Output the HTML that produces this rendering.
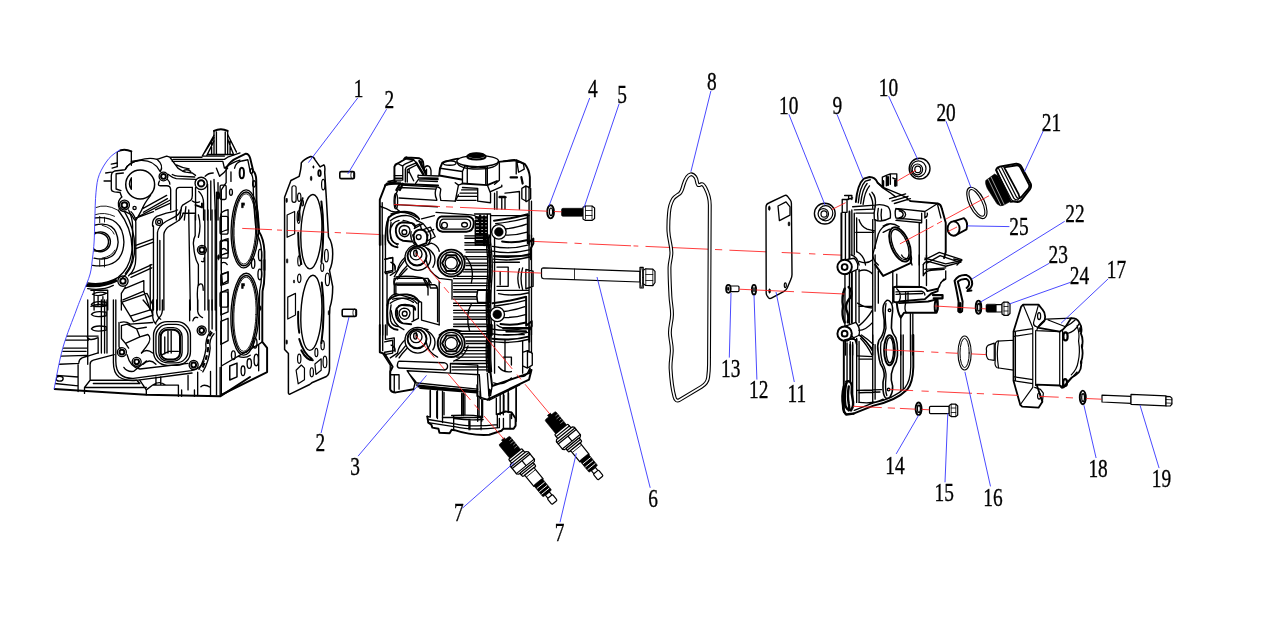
<!DOCTYPE html>
<html><head><meta charset="utf-8"><title>Exploded view</title>
<style>
html,body{margin:0;padding:0;background:#fff;}
body{width:1280px;height:623px;overflow:hidden;font-family:"Liberation Serif",serif;}
svg{display:block}
.k{stroke:#000;fill:none;stroke-width:1.2;stroke-linejoin:round;stroke-linecap:round}
.kw{stroke:#000;fill:#fff;stroke-width:1.2;stroke-linejoin:round;stroke-linecap:round}
.t{stroke:#000;fill:none;stroke-width:.8;stroke-linejoin:round;stroke-linecap:round}
.tw{stroke:#000;fill:#fff;stroke-width:.8;stroke-linejoin:round}
.h{stroke:#000;fill:none;stroke-width:1.8;stroke-linejoin:round;stroke-linecap:round}
.hw{stroke:#000;fill:#fff;stroke-width:1.8;stroke-linejoin:round}
.b{stroke:#3535ff;fill:none;stroke-width:.9}
.r{stroke:#ff1a1a;fill:none;stroke-width:.85}
.f{fill:#000;stroke:#000;stroke-width:.6}
#block .k,#head .k,#cover .k,#block .kw,#head .kw,#cover .kw{stroke-width:1.35}
#block .h,#head .h,#cover .h,#head .hw,#cover .hw{stroke-width:1.95}
#block .t,#head .t{stroke-width:.9}
text{font-family:"Liberation Serif",serif;font-size:25.5px;fill:#000;stroke:#000;stroke-width:.35px}
</style></head><body>
<svg width="1280" height="623" viewBox="0 0 1280 623">
<rect width="1280" height="623" fill="#fff"/>
<!-- p_block.svg -->
<defs><clipPath id="bclip"><path d="M120.1 149.7C118.2 151.2 112.4 154.3 108.9 158.5C105.4 162.7 101.5 169.0 99.3 174.6C97.1 180.2 96.8 184.6 96.0 192.2C95.2 199.8 95.1 211.7 94.8 220.0C94.5 228.3 94.5 235.7 94.1 242.0C93.7 248.3 93.2 252.7 92.5 258.0C91.8 263.3 91.7 268.1 90.1 274.0C88.5 279.9 85.1 287.5 82.8 293.5C80.5 299.5 79.7 300.9 76.4 310.0C73.1 319.1 66.5 334.8 62.8 348.0C59.1 361.2 55.5 382.4 54.0 389.3L54 420H300V100H120Z"/></clipPath></defs>
<g id="block"><g clip-path="url(#bclip)">
<style>#block path,#block circle,#block ellipse,#block rect{vector-effect:non-scaling-stroke}</style>
<!-- TOP: region [80,120,240,220] scale 6.231 -->
<g transform="translate(80,120) scale(.16048)">
<path class="h" d="M232 196Q276 176 320 196M835 68Q878 46 920 68"/>
<path class="k" d="M232 196V290M320 196V282M835 68V215M920 68V215M850 75V215M905 75V215"/>
<path class="k" d="M835 95L762 225M835 130L790 222M820 140V215M920 90L975 200M920 120L955 210M935 130V215M762 225H900M800 215H960M775 205L835 110"/>
<path class="k" d="M195 275L232 268M320 258L370 250Q430 232 480 245L540 225L560 232H760M560 232L610 300M580 245H900M575 258H890M900 245L920 232L997 205M890 258L900 300M900 300Q950 262 997 250M870 350Q900 330 920 300M610 300Q640 322 660 325L700 330L720 345M600 280Q640 300 680 305M640 320Q660 300 690 320"/>
<path class="k" d="M370 250Q300 265 280 310L215 318Q195 325 195 350V430Q195 445 215 448L250 452L260 480M270 330L225 335V430L255 440M200 300L232 290M160 330L195 325M150 380H195"/>
<circle class="k" cx="375" cy="402" r="90" style="stroke-width:1.5"/>
<path class="k" d="M320 360V432Q296 400 320 360Z"/>
<path class="k" d="M480 245Q525 285 500 322M545 370Q560 385 560 400M495 380Q480 410 500 410H540Q565 410 565 435V560M548 338Q575 360 600 365L720 370M600 623V440Q600 420 620 420H700M575 340Q590 350 610 350L715 355"/>
<circle class="k" cx="520" cy="352" r="27"/><circle class="h" cx="520" cy="352" r="15"/>
<circle class="k" cx="755" cy="395" r="38"/><circle class="h" cx="755" cy="395" r="20"/>
<circle class="k" cx="277" cy="530" r="31"/><circle class="h" cx="277" cy="530" r="18"/><circle class="k" cx="340" cy="548" r="10"/>
<path class="k" d="M260 480Q235 500 240 535Q245 572 285 572L320 590L340 623M440 470Q400 520 385 560L350 623M385 555L540 470M395 575L545 490M350 610L560 500M470 560L560 520"/>
<path class="k" d="M795 400V623M815 380V623M835 370L845 623M720 420V623M700 420V470Q700 490 690 500L640 530Q630 540 630 560L620 623M740 445Q770 470 770 520V623M660 540L650 623M700 505Q720 520 745 510M780 350Q800 330 830 330M850 300L870 350M860 390V623"/>
<path class="h" d="M720 530L760 545V520"/>
<ellipse class="h" cx="860" cy="470" rx="7" ry="18"/>
<path class="k" d="M283 308Q300 262 380 252Q462 250 497 318"/>
<path class="t" d="M100 545Q160 520 232 560M95 590Q150 570 215 600"/>
</g>
<!-- MID: region [70,210,230,310] scale 6.231 -->
<g transform="translate(70,210) scale(.16048)">
<path class="k" d="M300 0Q392 120 386 250Q376 360 300 420Q220 470 110 455M340 10Q412 130 402 262Q392 372 318 432"/>
<circle class="k" cx="190" cy="198" r="62"/><path class="k" d="M150 95Q290 60 300 200Q290 330 150 300M150 50Q330 30 336 200Q330 370 140 345M150 140Q240 140 240 200Q235 262 150 255"/>
<path class="t" d="M185 40V80M215 45V75M185 310V350M215 305V355M200 300Q260 290 280 250M200 95Q260 110 275 150"/>
<path stroke="#000" style="stroke-width:3.2" fill="none" d="M100 468Q200 482 292 436"/>
<path class="k" d="M110 490Q200 505 270 470"/>
<path class="k" d="M380 10Q410 40 410 80V300Q410 372 365 410M365 0Q390 50 390 100V290Q385 350 345 395"/>
<circle class="k" cx="330" cy="443" r="32"/><circle class="h" cx="330" cy="443" r="17"/>
<path class="k" d="M410 50L520 10M410 220L520 180M410 240L520 200M380 400L510 340M380 420L510 360M340 490L460 440M330 560L460 505M320 575L480 520M460 440V505L500 623M480 520L520 600M345 480L320 520V623"/>
<path class="k" d="M515 100Q510 60 540 40L600 20Q650 10 670 0M520 100V623M545 190V140Q550 100 600 70L650 45Q680 30 690 0M585 190V150Q590 120 620 100L670 70Q700 50 705 20M545 190V623M560 190V623M585 190V623M500 340V623"/>
<circle class="k" cx="555" cy="75" r="21"/><circle class="k" cx="555" cy="75" r="10"/>
<path class="k" d="M740 0V30L750 623M705 20H780M780 30V160Q765 190 770 220Q775 300 800 340V460Q790 500 795 560V623M840 0V623M860 0V623M885 0V623M905 0V623M800 30Q820 100 800 170M820 320Q840 330 835 300M800 470Q830 440 830 500"/>
<circle class="k" cx="822" cy="248" r="28"/><circle class="h" cx="822" cy="248" r="16"/>
<rect class="k" x="935" y="40" width="50" height="110" rx="12"/><rect class="k" x="935" y="190" width="50" height="110" rx="12"/><path class="k" d="M945 400L985 385V440L950 460Z"/><rect class="k" x="935" y="510" width="50" height="95" rx="12"/>
<ellipse class="f" cx="925" cy="295" rx="6" ry="16"/>
<path class="k" d="M940 250Q960 230 975 250M945 330Q965 320 980 340"/>
<path class="k" d="M130 500H235V623M150 500V623M140 525Q180 502 228 518Q180 545 140 525ZM130 600Q170 580 230 595M175 540V600M205 540V600"/>
</g>
<!-- BOTTOM: region [50,300,250,400] scale 6.23 -->
<g transform="translate(50,300) scale(.16051)">
<path class="h" d="M25 555L600 590L1060 600L1246 480"/>
<path class="k" d="M105 225H300M95 250H240M85 300H230M80 320H225M230 225Q240 262 300 235M180 390Q180 370 200 360L300 330M175 400V570M215 545L250 500V400Q250 380 270 375L400 340M215 545V582M250 500H540M270 520H560M215 545H600M560 500L600 560V590M540 500L560 520M30 520L175 535M40 470L175 480M60 400L180 395M70 350L230 345"/>
<path class="k" d="M600 560L640 530H800M660 480V530M690 480V530M800 530V600M820 560V600M900 560V600M920 450V595M1000 445V600M1060 420V600M940 540Q960 520 1000 545M640 530Q680 500 720 530M860 470V560"/>
<ellipse class="k" cx="60" cy="490" rx="22" ry="15"/>
<path class="k" d="M235 0V400M320 0V330M340 0V330M355 0V330M300 240V330"/>
<path class="k" d="M258 28Q275 2 350 14V36Q275 50 258 28ZM258 90Q275 64 350 76V98Q275 112 258 90ZM258 180Q275 154 350 166V188Q275 202 258 180Z"/>
<path class="k" d="M410 0V380Q410 440 440 465Q470 490 520 488L880 440Q940 430 960 380M395 0V390Q395 455 430 480Q470 505 525 502L885 455M430 140V290Q430 300 440 300"/>
<path class="k" d="M445 10L500 100L630 60L580 0M500 100L520 135L640 95L630 60M445 10V0M440 140Q470 130 500 150L640 140M445 160L480 150L540 180L560 230L470 270L445 240ZM540 180L600 170M560 230L610 215Q640 240 600 290L570 330M470 270L490 300"/>
<circle class="k" cx="448" cy="325" r="28"/><circle class="h" cx="448" cy="325" r="15"/>
<circle class="k" cx="540" cy="385" r="28"/><circle class="h" cx="540" cy="385" r="15"/>
<circle class="k" cx="945" cy="190" r="28"/><circle class="h" cx="945" cy="190" r="15"/>
<circle class="k" cx="895" cy="405" r="28"/><circle class="h" cx="895" cy="405" r="15"/>
<path class="k" d="M480 340Q500 420 560 430L860 395M460 420Q480 450 520 445L600 380M570 330Q600 300 640 330M580 400Q620 360 660 400"/>
<rect class="k" x="645" y="135" width="230" height="272" rx="85"/><rect class="k" x="660" y="152" width="200" height="240" rx="75"/>
<rect class="h" x="690" y="185" width="120" height="185" rx="42" style="stroke-width:2"/><rect class="k" x="678" y="172" width="145" height="210" rx="55"/>
<path class="k" d="M735 195V330M755 195V330M700 340L740 320H800M715 230V335"/>
<path class="k" d="M640 0V100Q640 130 660 150M665 0V80Q670 110 690 120M700 0V60Q700 90 680 110L660 140M870 0V130M920 0V70Q925 100 950 110M990 0V200M1010 0V180M1035 0V190M890 130Q900 100 920 110"/>
<path stroke="#000" style="stroke-width:2.2" fill="none" stroke-dasharray="5 3" d="M1010 200Q975 240 985 300Q975 380 940 440"/>
<path class="k" d="M1000 195Q965 240 972 300Q962 375 928 432M1022 210Q988 245 998 300Q990 385 952 448"/>
</g>
<!-- DECK top: region [190,120,290,270] scale 4.15 -->
<g transform="translate(190,120) scale(.24096)">
<path class="h" d="M150 200Q165 170 200 155L232 140Q245 140 250 160L262 210Q275 225 275 250L276 332L281 403L287 465Q306 492 309 546V623"/>
<path class="k" d="M185 200Q190 176 215 170L240 165L250 215Q262 230 262 260L264 335L269 405L275 470Q294 498 297 546V623M150 200V260L130 290V623M110 300V623M170 215V255"/>
<g transform="rotate(2 228 450)"><ellipse class="k" cx="228" cy="452" rx="57" ry="162"/><ellipse class="k" cx="228" cy="452" rx="50" ry="153" style="stroke-width:1.5"/><ellipse class="t" cx="228" cy="452" rx="45" ry="146"/></g>
<path class="f" d="M214 344h12v10h-5v10h-7z"/>
<ellipse class="h" cx="215" cy="220" rx="9" ry="22"/><ellipse class="k" cx="255" cy="212" rx="5" ry="10"/><ellipse class="k" cx="266" cy="265" rx="6" ry="13"/><ellipse class="k" cx="170" cy="300" rx="6" ry="13"/><ellipse class="k" cx="291" cy="560" rx="7" ry="24"/>
<rect class="k" x="125" y="270" width="25" height="60" rx="6"/><path class="k" d="M128 392Q128 380 158 372V455Q130 462 128 470ZM128 512Q128 500 158 492V552Q130 558 128 565Z"/>
<ellipse class="k" cx="262" cy="596" rx="7" ry="20"/>
</g>
<!-- DECK bottom: region [190,260,290,410] scale 4.15 -->
<g transform="translate(190,260) scale(.24096)">
<path class="h" d="M309 0V60Q309 100 301 130L300 200V340L320 365V465L130 560"/>
<path class="k" d="M297 0V58Q297 98 289 128L288 200V330M130 0V560M110 0V560M300 340L285 350L130 440M285 350V460"/>
<g transform="rotate(2 228 225)"><ellipse class="k" cx="228" cy="225" rx="58" ry="170"/><ellipse class="k" cx="228" cy="225" rx="51" ry="161" style="stroke-width:1.5"/><ellipse class="t" cx="228" cy="225" rx="46" ry="154"/></g>
<path class="f" d="M214 98h12v10h-5v10h-7z"/>
<ellipse class="k" cx="290" cy="60" rx="8" ry="22"/><ellipse class="f" cx="291" cy="200" rx="4" ry="10"/><ellipse class="k" cx="270" cy="345" rx="8" ry="20"/><ellipse class="k" cx="275" cy="415" rx="9" ry="24"/><ellipse class="k" cx="246" cy="430" rx="9" ry="20"/><ellipse class="k" cx="220" cy="460" rx="8" ry="20"/><ellipse class="k" cx="180" cy="395" rx="8" ry="18"/>
<path class="k" style="stroke-width:1.500" d="M165 440L195 428V485L165 498Z"/>
<path class="k" d="M128 62L158 50V95L128 105ZM128 135L158 122V215L128 228ZM128 255L158 242V335L128 350Z"/>
<path class="k" d="M200 400Q230 410 250 395"/>
</g>
</g>
<!-- blue break line -->
<path class="b" d="M120.1 149.7C118.2 151.2 112.4 154.3 108.9 158.5C105.4 162.7 101.5 169.0 99.3 174.6C97.1 180.2 96.8 184.6 96.0 192.2C95.2 199.8 95.1 211.7 94.8 220.0C94.5 228.3 94.5 235.7 94.1 242.0C93.7 248.3 93.2 252.7 92.5 258.0C91.8 263.3 91.7 268.1 90.1 274.0C88.5 279.9 85.1 287.5 82.8 293.5C80.5 299.5 79.7 300.9 76.4 310.0C73.1 319.1 66.5 334.8 62.8 348.0C59.1 361.2 55.5 382.4 54.0 389.3"/>
</g>

<!-- p_gasket.svg -->
<g id="gasket1">
<style>#gasket1 path,#gasket1 ellipse{vector-effect:non-scaling-stroke}</style>
<!-- outline in page coords -->
<path class="hw" style="stroke-width:1.5" d="M284.600 349.400V197.200L290.900 180.500L299.200 176.300Q301.300 168 301.300 162.800Q303.400 159.600 310.700 156.500Q313.900 156.500 314.900 159.600L320.100 166.900L323.900 164.800Q325.400 165.900 324.700 172.200L326.400 199.300Q327.400 218 328.500 236.900Q332.700 243.200 332.700 253.600Q332.700 264 329.500 270.300L332.700 286.700Q332.700 299.200 329.900 307.600L329.500 314.900V368.200Q329.500 374.400 326.400 376.500L311.800 382.800L309.700 384.500L290.900 393.700Q288.800 394.900 288.400 393.200V353.600Z"/>
<g transform="translate(270,145) scale(.20888)">
<g transform="rotate(2.500 198 415)"><ellipse class="k" cx="198" cy="415" rx="50" ry="178" style="stroke-width:1.400"/></g>
<path class="h" style="stroke-width:2" d="M246 270Q264 400 246 560M135 420Q135 500 150 570M156 255Q140 300 136 360"/>
<path class="k" d="M105 205Q105 195 115 195Q125 195 125 205V262Q125 275 115 275Q105 275 105 262ZM82 335L118 318V425L82 442Z"/>
<ellipse class="k" cx="140" cy="250" rx="8" ry="20"/><ellipse class="k" cx="156" cy="278" rx="4" ry="14"/><ellipse class="f" cx="208" cy="105" rx="3" ry="6"/><ellipse class="f" cx="197" cy="160" rx="4" ry="11"/><ellipse class="h" cx="237" cy="135" rx="6" ry="14"/><ellipse class="k" cx="255" cy="190" rx="8" ry="25"/><ellipse class="f" cx="80" cy="265" rx="3.500" ry="11"/><ellipse class="k" cx="137" cy="345" rx="7" ry="30"/><ellipse class="k" cx="270" cy="530" rx="9" ry="30"/><ellipse class="k" cx="250" cy="585" rx="7" ry="20"/><ellipse class="k" cx="140" cy="555" rx="7" ry="24"/><ellipse class="f" cx="82" cy="555" rx="3.500" ry="11"/>
</g>
<g transform="translate(270,270) scale(.20888)">
<g transform="rotate(2.500 198 205)"><ellipse class="k" cx="198" cy="205" rx="50" ry="180" style="stroke-width:1.400"/></g>
<path class="h" style="stroke-width:2" d="M248 60Q266 200 246 350M135 200Q133 260 140 300M140 330Q160 400 200 425M150 385Q175 432 205 432"/>
<path class="k" d="M85 130L122 112V215L85 235ZM125 480L150 455L165 470V525L135 545ZM215 450L245 425V480L220 500Z"/>
<ellipse class="k" cx="140" cy="40" rx="8" ry="20"/><ellipse class="f" cx="115" cy="55" rx="3" ry="8"/><ellipse class="k" cx="275" cy="45" rx="10" ry="30"/><ellipse class="f" cx="282" cy="205" rx="3.500" ry="11"/><ellipse class="f" cx="80" cy="345" rx="3.500" ry="11"/><ellipse class="k" cx="252" cy="360" rx="8" ry="22"/><ellipse class="k" cx="222" cy="395" rx="7" ry="20"/><ellipse class="k" cx="140" cy="425" rx="8" ry="22"/><ellipse class="k" cx="263" cy="440" rx="9" ry="28"/><ellipse class="k" cx="200" cy="490" rx="8" ry="22"/>
</g>
</g>

<!-- p_axis.svg -->
<g id="axis" class="r">
<path d="M242.2 228.4L272.0 229.7M277.0 230.0L282.0 230.2M286.7 230.4L328.5 232.3M334.7 232.5L341.0 232.8M346.0 233.0L395.0 235.2M490.0 239.5L567.3 242.9M574.5 243.2L581.7 243.6M589.0 243.9L631.0 245.8M633.5 245.9L638.3 246.1M645.5 246.4L708.2 249.2M715.0 249.5L722.2 249.8M729.4 250.2L770.0 252.0M809.0 253.7L815.4 254.0M823.0 254.4L843.0 255.2"/>
</g>

<!-- p_head.svg -->
<g id="head">
<style>#head path,#head circle,#head ellipse,#head rect{vector-effect:non-scaling-stroke}</style>
<path fill="#fff" stroke="none" d="M379.800 199.600L386.200 183.500L395.900 181.100V165.900L404.700 157.800L419.900 160.200L430.400 172.300L439.200 175.500L440 168.300L442.400 162.700L458.400 158.600L467.300 154.600H485.700L498.600 161L516.200 160.200L525 164.300L529.900 177.100L531.500 201.200V369.900L529 379.600L516.200 387.600V418.500L513.600 428.700L501.400 430.700L489.200 434.800L454.700 430.200L439.500 432.700L432.300 427.700L427.300 416.500L430.300 390.100L395.900 392.400L390.200 389.200V371.500L379.800 352.300Z"/>
<g transform="translate(375,145) scale(.16048)">
<path class="h" d="M30 623V340L65 250L130 228"/>
<path class="k" d="M45 360V623M60 250L140 240Q160 235 165 250M70 240L130 228"/>
<path class="k" d="M165 250L390 262Q400 262 410 275M150 265L380 275M385 262Q365 300 385 340M410 275Q400 310 410 345M150 270Q120 310 125 370Q130 400 150 410M150 330L385 345M130 372L390 385M410 345L500 350L520 310"/>
<ellipse class="k" cx="130" cy="350" rx="11" ry="48"/>
<path class="h" d="M400 190L405 145L420 110Q500 85 520 85M400 190L540 215M545 240L700 250L760 225M770 105L880 95L935 120Q960 150 965 200V260"/>
<path class="k" d="M405 145L545 165V240M545 165L560 130M560 130Q640 152 700 135M700 135V250M575 135V240M690 140V245M880 95V180M775 110V220L745 245M800 100L870 92M500 235L520 250L545 240M520 250L500 350"/>
<ellipse class="k" cx="640" cy="100" rx="130" ry="35"/><path class="k" d="M510 105Q520 150 640 150Q760 148 770 105"/><ellipse class="h" cx="632" cy="72" rx="58" ry="18"/><ellipse class="h" cx="632" cy="64" rx="44" ry="11" style="stroke-width:2.4"/><ellipse class="k" cx="465" cy="112" rx="40" ry="14"/>
<path class="k" d="M885 110Q900 100 925 115L930 150L895 170ZM915 270L940 255L970 270V335L945 352L915 335ZM940 255V352"/><path class="h" style="stroke-width:2.2" d="M845 202H885M912 200L920 240"/>
<path class="k" d="M540 280H640M530 300H640M520 320H635M510 345H630M640 270V350L720 360M545 265L640 270M700 250L720 300V360M720 290L790 260V250M745 300V400M760 290V400M775 320H810V400M790 330V400M810 300L900 290V400M960 260V623M975 350V623"/><path class="h" d="M775 325H815"/>
<path class="h" d="M415 445H580Q620 450 615 495Q610 540 570 540H420Q380 535 385 490Q388 450 415 445Z"/><path class="k" d="M425 462H570Q598 466 596 495Q594 522 565 524H428Q402 520 404 492Q406 465 425 462Z"/><circle class="k" cx="433" cy="500" r="18"/><ellipse class="k" cx="558" cy="497" rx="18" ry="14"/>
<path class="k" d="M380 420L600 435Q640 440 650 470M150 470Q100 480 95 540Q95 600 140 623M175 470Q230 480 240 500M100 430Q180 400 260 450M85 450Q60 500 65 623M245 520L300 490L340 540Q360 580 330 623M225 540Q215 590 250 623M260 470L300 490M290 460L370 440"/><circle class="k" cx="183" cy="543" r="15"/><circle class="k" cx="272" cy="577" r="15"/>
<path class="h" style="stroke-width:2.4" d="M655 440V560M680 445V623"/><path class="k" d="M620 430H720V623M700 430V623M625 470V623M720 440H960"/>
<path class="k" d="M626 448H700M626 456H700M626 469H700M626 477H700M626 490H700M626 498H700M626 511H700M626 519H700M626 532H700M626 540H700M626 553H700M626 561H700M626 574H700M626 582H700M626 595H700M626 603H700M626 616H700M626 624H700"/>
</g>
<g transform="translate(375,235) scale(.16048)">
<path class="k" d="M30 0V623M48 0V623M65 0V230L75 240V623M65 150L110 140V230L65 240M100 170Q130 180 125 220"/>
<circle class="kw" cx="267" cy="140" r="80"/><circle class="h" cx="262" cy="131" r="59"/><circle class="k" cx="256" cy="118" r="37"/><ellipse class="k" cx="252" cy="114" rx="11" ry="19"/><path class="k" d="M257 123v-30"/>
<circle class="hw" cx="475" cy="175" r="84"/><circle class="k" cx="475" cy="175" r="69"/><path class="h" d="M532 175L504 224L446 224L418 175L446 126L504 126Z"/><circle class="k" cx="475" cy="175" r="38"/>
<path class="k" d="M235 0L255 60L310 50L330 0M190 150Q150 200 120 260M200 210Q170 240 140 275M320 160Q330 230 400 270M120 270H330L350 300M130 300L330 300M120 270Q115 290 120 310H370Q390 315 390 340V540M130 300V380M330 270L345 330H385M400 270L480 280V400M400 290V560"/><circle class="k" cx="272" cy="15" r="12"/>
<path class="k" d="M75 440Q80 380 130 365L250 400L270 410V520L230 540M110 400Q180 380 240 420M100 470Q110 560 180 590M150 440Q200 420 240 450V530M140 470Q135 520 170 550M270 410L290 420V530L400 560M195 623Q250 560 330 590M400 623Q460 570 540 600"/><circle class="k" cx="185" cy="490" r="15"/>
<path class="k" d="M560 5H700M560 20H700M560 48H700M560 63H700M560 92H700M568 107H700M560 135H700M565 150H700M569 175H700M568 190H700M560 215H700M550 230H700M514 258H700M490 272H700M490 300H700M490 315H700M490 340H700M490 355H700M490 385H700M490 400H700M490 425H700M490 440H700M490 470H700M490 485H700M490 510H700M490 525H700M490 555H700M490 570H700M490 600H700M490 615H700"/>
<path class="k" d="M560 130Q625 200 600 300M600 430Q560 500 590 600M640 345Q630 380 640 420H720V345Z" /><path class="kw" d="M640 345H715V420H640Q630 380 640 345Z"/><ellipse class="k" cx="705" cy="380" rx="9" ry="17"/>
<path class="h" style="stroke-width:3.2" stroke-dasharray="3 2" d="M698 0Q726 150 712 300Q700 450 716 623"/><path class="k" d="M685 0Q712 150 698 300Q686 450 702 623M712 0Q740 150 726 300Q714 450 730 623"/>
<path class="k" d="M740 130H960M740 170H900M760 200H830V320H760M780 230V310M900 210Q880 270 900 330M940 215L985 225V320L940 335ZM920 205Q900 270 920 340M960 0V623M975 0V623M745 0V623M760 345H960M770 365Q860 385 960 360"/>
</g>
<g transform="translate(375,325) scale(.16048)">
<circle class="kw" cx="267" cy="95" r="80"/><circle class="h" cx="262" cy="86" r="59"/><circle class="k" cx="256" cy="73" r="37"/><ellipse class="k" cx="252" cy="69" rx="11" ry="19"/><path class="k" d="M257 78v-30"/>
<circle class="hw" cx="475" cy="115" r="84"/><circle class="k" cx="475" cy="115" r="69"/><path class="h" d="M532 115L504 164L446 164L418 115L446 66L504 66Z"/><circle class="k" cx="475" cy="115" r="38"/>
<path class="h" d="M30 0V170L60 180L110 260L95 290V400Q100 420 130 420L240 400"/>
<path class="k" d="M50 180L95 250V400M48 0V160M65 0V90L120 80V160L60 170M150 225L430 235Q455 240 452 262Q448 282 425 280L150 268Q135 262 140 245Q142 228 150 225ZM95 310H150V400M120 310V415M200 285L250 360L240 400M200 285L470 300M210 300L255 355M470 240V300L650 310M470 240L640 250M490 225Q560 200 580 130M640 250V440L660 460L700 465M650 310L660 460M190 130Q160 170 130 200M320 110Q330 170 390 200"/>
<path class="k" d="M250 360L640 400M258 374L640 414"/>
<path class="h" d="M720 0Q700 200 730 380L960 300L965 270M700 465L960 340L975 280"/><path class="k" d="M730 380L720 440M740 360Q800 380 850 330M700 300L710 440"/><ellipse class="k" cx="715" cy="415" rx="5" ry="12"/>
<path class="k" d="M345 410V570M385 415V575M430 420V560M540 430V560M560 430V560M640 440V600M665 465V600M780 430V560M800 425V560M830 410V545M880 390V600"/>
<path class="k" d="M546 55H700M560 75H700M568 100H700M569 115H700M565 140H700M557 160H700M541 180H700M509 200H700M500 222H700M480 240H700M480 262H700M480 280H700"/>
<path class="h" style="stroke-width:3.200" stroke-dasharray="3 2" d="M716 0Q700 150 712 290"/><path class="k" d="M702 0Q686 150 698 290M730 0Q714 150 726 290"/>
<path class="k" d="M800 60H930M810 90V290M920 100V300M800 200H850V250M770 260Q800 300 850 290M920 170L950 160L980 175V250L950 268L920 255ZM950 160V268M960 280Q940 330 900 320M760 0Q800 30 850 20M745 0V300M960 0V170M975 0V175"/><path class="h" style="stroke-width:2.400" d="M800 20H960M820 40H940"/>
</g>
<g transform="translate(410,385) scale(.10156)">
<path class="h" d="M80 15L660 60M100 30L660 75"/>
<path class="k" d="M200 50V310M270 55V330M320 60V320M510 80V300M525 80V300M680 130V300M715 150V320M850 130V290M925 100V260M970 80V250M1045 30V330"/>
<path class="k" d="M660 0V110L780 150L1080 0M690 60V120M780 40V150"/><ellipse class="k" cx="785" cy="65" rx="6" ry="18"/>
<path class="h" d="M170 310L180 370L210 390L220 420L280 430L290 470L390 475L410 440L440 445Q600 500 780 490L900 450L920 430L1020 430L1040 400V330L1000 270L940 260L860 290"/>
<path class="k" d="M170 310L200 315M180 340L430 380M180 370L430 410M430 300V445M320 320L700 320M320 320V370M410 300L430 300Q600 290 700 310V350M440 330Q580 350 720 340M430 380Q600 420 860 390M440 410Q600 450 880 420M580 340V440M590 340V440M700 350V440M860 300V420M880 330V420M920 330V430M985 290V430M1000 270V330M860 290Q900 280 940 262"/>
</g>
<g transform="translate(478.0,195.0) scale(.16043)">
<circle class="kw" cx="130" cy="230" r="45"/><circle class="f" cx="130" cy="230" r="27"/>
<path class="h" d="M100 160Q200 150 310 120M150 290Q230 302 302 282M100 382Q220 397 330 367M310 120V300L345 272V302L330 330V400"/>
<path class="k" d="M110 178Q210 168 305 142M172 212Q250 202 302 182M176 250Q250 250 306 232M90 320Q200 342 310 312M90 350Q200 372 320 342M95 400Q220 415 330 385"/>
</g>
<g transform="translate(476.4,277.5) scale(.16043)">
<circle class="kw" cx="130" cy="230" r="45"/><circle class="f" cx="130" cy="230" r="27"/>
<path class="h" d="M100 160Q200 150 310 120M150 290Q230 302 302 282M100 382Q220 397 330 367M310 120V300L345 272V302L330 330V400"/>
<path class="k" d="M110 178Q210 168 305 142M172 212Q250 202 302 182M176 250Q250 250 306 232M90 320Q200 342 310 312M90 350Q200 372 320 342M95 400Q220 415 330 385"/>
</g>
<g transform="translate(388,150) scale(.064193)">
<path class="h" d="M100 470V260Q110 220 150 210L270 140M250 140Q270 110 300 115L490 130Q530 140 545 180L560 300M0 520L780 552"/>
<path class="f" d="M250 140L290 115L400 140L390 165Z"/>
<path class="k" d="M100 470H230M100 400H225M105 440H230M230 470V250Q240 230 270 215L390 165M150 210L230 250M300 500V310L330 290L450 230M270 500V300Q280 270 300 260L440 200L400 150M330 290V340L400 480M330 340L300 360"/>
<path class="h" style="stroke-width:2.4" d="M440 200L550 380M490 170L580 350"/><path class="k" d="M520 180V260"/>
<path class="k" d="M560 300Q570 250 610 245Q660 250 670 320V390M600 300V380M580 320V380"/>
<path class="k" d="M470 390Q460 410 470 430L780 440M480 395L790 405M430 520L480 450L780 460M490 480L770 490M0 490L100 470M20 500H200"/>
<path class="h" style="stroke-width:2.2" d="M180 540L130 623M230 525L185 623"/>
</g>
<g transform="translate(375.0,195.0) scale(.16064)">
<path class="h" d="M85 140Q130 100 200 105Q250 110 275 150M85 140Q70 200 80 280Q95 320 140 325"/>
<path class="k" d="M95 160Q140 125 200 128Q240 132 262 162M100 170Q88 220 98 270Q108 300 145 305"/>
<path class="h" d="M130 230Q125 180 170 170L230 175Q250 180 250 200M130 230Q135 275 175 285L225 290"/>
<path class="k" d="M150 225Q150 195 180 190Q215 192 218 220Q215 255 185 260Q155 255 150 225Z"/>
<path class="k" d="M185 390Q150 420 140 470L95 500M200 440Q170 470 150 500M320 330Q350 340 370 380Q380 420 360 450M60 400L110 390V470L60 480M100 420Q130 430 125 460"/>
</g>
<g transform="translate(375.0,277.6) scale(.16064)">
<path class="h" d="M85 140Q130 100 200 105Q250 110 275 150M85 140Q70 200 80 280Q95 320 140 325"/>
<path class="k" d="M95 160Q140 125 200 128Q240 132 262 162M100 170Q88 220 98 270Q108 300 145 305"/>
<path class="h" d="M130 230Q125 180 170 170L230 175Q250 180 250 200M130 230Q135 275 175 285L225 290"/>
<path class="k" d="M150 225Q150 195 180 190Q215 192 218 220Q215 255 185 260Q155 255 150 225Z"/>
<path class="k" d="M185 390Q150 420 140 470L95 500M200 440Q170 470 150 500M320 330Q350 340 370 380Q380 420 360 450M60 400L110 390V470L60 480M100 420Q130 430 125 460"/>
</g>
<g transform="translate(375,195) scale(.16064)">
<path class="hw" d="M240 250Q250 215 290 215Q330 225 325 270L320 300L265 320L245 290Z"/><circle class="k" cx="272" cy="262" r="15"/>
<path class="k" d="M245 195L280 180L290 215M300 215L345 200L375 260L325 285M330 230L365 215M30 70L70 85L100 100Q130 110 150 100M300 320L350 300Q390 310 400 350"/>
<path class="k" d="M130 510Q200 500 290 515Q320 525 330 560V623M120 540Q125 520 140 515M120 540V623M140 560H320M300 520L330 580"/>
</g>
</g>

<!-- p_plugs.svg -->
<g id="plugs">
<g transform="translate(503.2,439.2) rotate(50.9)">
<rect class="f" x="-.5" y="-1.8" width="4" height="3.6"/>
<rect class="f" x="1.500" y="-7" width="18" height="14" rx="1.500"/>
<path stroke="#fff" style="stroke-width:.5" fill="none" d="M5 -7V-4M8 -7V-3M11 -7V-4M14 -7V-3"/>
<rect class="kw" x="19" y="-8.500" width="5.500" height="17" rx="1"/>
<path class="k" d="M21.500 -8.500V8.500"/>
<path class="kw" d="M24 -10L25.500 -11.500H35.500L37 -10V10L35.500 11.500H25.500L24 10Z"/>
<path class="k" d="M26.500 -11.500V11.500M28.500 -11.500V11.500M35 -11.500V11.500M28.500 -1H35"/>
<rect class="kw" x="37" y="-8.500" width="4.500" height="17" rx="1"/><path class="k" d="M39 -8.500V8.500"/>
<path class="kw" d="M41.500 -6.500L43 -6H56V6H43L41.500 6.500Z"/>
<path class="t" d="M44 -5.500V5.500"/>
<rect class="f" x="55" y="-5.500" width="15" height="11" rx="1"/>
<path stroke="#fff" style="stroke-width:.9" fill="none" d="M59.500 -5V5M63.500 -5V5M67 -5V5"/>
<rect class="kw" x="70" y="-2.600" width="4.500" height="5.200"/>
<rect class="kw" x="74" y="-3.400" width="7.500" height="6.800" rx="1.200"/>
</g>
<g transform="translate(549.2,414.6) rotate(50.9)">
<rect class="f" x="-.5" y="-1.8" width="4" height="3.6"/>
<rect class="f" x="1.500" y="-7" width="18" height="14" rx="1.500"/>
<path stroke="#fff" style="stroke-width:.5" fill="none" d="M5 -7V-4M8 -7V-3M11 -7V-4M14 -7V-3"/>
<rect class="kw" x="19" y="-8.500" width="5.500" height="17" rx="1"/>
<path class="k" d="M21.500 -8.500V8.500"/>
<path class="kw" d="M24 -10L25.500 -11.500H35.500L37 -10V10L35.500 11.500H25.500L24 10Z"/>
<path class="k" d="M26.500 -11.500V11.500M28.500 -11.500V11.500M35 -11.500V11.500M28.500 -1H35"/>
<rect class="kw" x="37" y="-8.500" width="4.500" height="17" rx="1"/><path class="k" d="M39 -8.500V8.500"/>
<path class="kw" d="M41.500 -6.500L43 -6H56V6H43L41.500 6.500Z"/>
<path class="t" d="M44 -5.500V5.500"/>
<rect class="f" x="55" y="-5.500" width="15" height="11" rx="1"/>
<path stroke="#fff" style="stroke-width:.9" fill="none" d="M59.500 -5V5M63.500 -5V5M67 -5V5"/>
<rect class="kw" x="70" y="-2.600" width="4.500" height="5.200"/>
<rect class="kw" x="74" y="-3.400" width="7.500" height="6.800" rx="1.200"/>
</g>
</g>

<!-- p_gasket8.svg -->
<g id="gasket8">

<path fill="none" stroke="#000" style="stroke-width:3.9" stroke-linejoin="round" d="M690.6 174.3C687.6 175 685 180 683.6 184.6C682.4 188.4 682 191.8 679.6 193.6C677 195.4 674.600 196.4 673 199C670.400 203.4 669.400 208 669 213C668.400 220 668.200 225 668.400 231C668.800 240 671.600 246 671.400 253C671.200 259 669.600 262 669.500 267.500C669.400 277 670 287 670.400 296C670.800 304 672.200 308 672 315C671.800 322 669.800 326 669.900 333C670 339 672 344 671.800 351C671.600 357 670.200 362 670.600 369C671.200 380 672.600 390 674.400 396.600C675.200 400.200 677 401.400 679.600 399.900L701.500 386.800C705.400 384.400 707.600 381.600 708.100 377.400C708.800 372 709 368 709 364L709.800 205C709.800 198.500 708 193 705.400 188C704.200 185.600 702.800 183.800 701.400 184.200C700 184.600 699 185.800 698 184.800C696.600 183.400 697.200 179.600 695.600 177.400C694.400 175.600 692.400 174 690.600 174.300Z"/>
<path fill="none" stroke="#fff" style="stroke-width:1.7" stroke-linejoin="round" d="M690.6 174.3C687.6 175 685 180 683.6 184.6C682.4 188.4 682 191.8 679.6 193.6C677 195.4 674.600 196.4 673 199C670.400 203.4 669.400 208 669 213C668.400 220 668.200 225 668.400 231C668.800 240 671.600 246 671.400 253C671.200 259 669.600 262 669.500 267.500C669.400 277 670 287 670.400 296C670.800 304 672.200 308 672 315C671.800 322 669.800 326 669.900 333C670 339 672 344 671.800 351C671.600 357 670.200 362 670.600 369C671.200 380 672.600 390 674.400 396.600C675.200 400.200 677 401.400 679.600 399.900L701.500 386.800C705.400 384.400 707.600 381.600 708.100 377.400C708.800 372 709 368 709 364L709.800 205C709.800 198.500 708 193 705.400 188C704.200 185.600 702.800 183.800 701.400 184.200C700 184.600 699 185.800 698 184.800C696.600 183.400 697.200 179.600 695.600 177.400C694.400 175.600 692.400 174 690.600 174.300Z"/>
<!-- plate 11 -->
<path class="kw" style="stroke-width:1.4" d="M768.800 203L784.400 195.600Q786.200 194.800 787.400 196.200L790.400 200.200Q791.400 201.600 791.400 203.400L792 274.400Q792 277 790.800 279.400L787.200 288Q786.200 290.200 784 291.400L771.400 298.200Q769.600 299.200 768.400 297.600L767 295.600Q766.200 294.400 766.200 293L766 207Q766 204.200 768.800 203Z"/>
<path class="kw" style="stroke-width:1.3" d="M778 206L786 201.800 790 206.800V215.200L779.400 220.600Z"/>
<ellipse class="f" cx="769.300" cy="208.200" rx=".9" ry="2.200"/>
<ellipse class="f" cx="789" cy="223.900" rx=".9" ry="2.200"/>
<ellipse class="f" cx="769.600" cy="291" rx=".9" ry="2.200"/>
<ellipse class="kw" cx="785.300" cy="285.300" rx="1" ry="2.400"/>
</g>

<!-- p_cover.svg -->
<g id="cover">
<style>#cover path,#cover circle,#cover ellipse,#cover rect{vector-effect:non-scaling-stroke}</style>
<!-- white silhouette to hide axis lines -->
<path fill="#fff" stroke="none" d="M842 212L856 200L862 180L870 176.500L878 183L883 176H897V186L909 198L938 203.500L942 209L946 223V252L961 259.500L955 268L946 270V292L938 296L937 312L913 314V372L905 393L874 406L853 413.500L844 414L842 380Z"/>
<!-- C1 -->
<g transform="translate(835,165) scale(.16048)">
<path class="k" d="M45 215V295H75V215ZM60 190H105V215M75 215L110 205M85 190V215"/>
<path class="h" d="M40 300V623M90 290V623"/><path class="k" d="M65 300V623M105 280V560M120 300V560M135 330V540"/>
<path class="h" d="M130 230Q140 120 180 85L215 75Q250 75 265 110L300 140"/>
<path class="k" d="M145 235Q155 135 190 100L220 92M160 240Q170 150 200 115M175 245Q185 165 215 130M230 170Q260 200 250 260M215 180Q240 220 235 270"/>
<path class="k" d="M295 140V75L320 65V130M320 65L345 55H385V130M345 55V120M360 80Q375 90 385 85"/><path class="h" style="stroke-width:2.200" d="M300 100V135M330 75V125M375 95V130"/>
<path class="k" d="M265 110Q300 150 340 170L380 200M300 140L420 190Q450 200 470 225M340 210L440 180M355 225L455 195M370 240L470 210"/>
<path class="k" d="M110 260L250 250Q290 240 330 260M120 280L240 275M130 300L240 300M250 260Q240 300 245 340M330 260Q350 280 345 330M270 270Q262 305 268 340M290 275Q285 310 290 340M245 340Q290 362 345 330"/>
<path class="h" d="M470 225L640 240Q660 245 665 270L690 360V540L680 580"/>
<path class="k" d="M380 270L560 290L640 240M560 290V330M380 270Q370 300 380 330M385 275Q440 280 440 310Q435 340 385 335M400 285Q425 290 425 310Q420 330 400 328M380 330L540 345M380 345L540 360M540 300V360M560 330Q580 320 575 300M640 250L660 330M570 340V600M525 360V623"/>
<g transform="rotate(-22 405 495)"><ellipse class="h" cx="405" cy="495" rx="56" ry="113"/><ellipse class="k" cx="405" cy="495" rx="45" ry="100"/></g>
<path class="k" d="M335 370Q290 380 270 430L235 560M340 400L300 420M235 560Q240 600 270 623M300 380Q350 350 400 385M470 590L480 623"/>
<path class="k" d="M100 560Q140 570 150 623M135 540Q180 560 190 623M150 340Q160 380 200 400L245 410M130 420H240M235 340V560M250 340V520"/>
<path class="k" d="M560 590L650 545L790 590L760 623M575 610L655 565L760 600"/>
</g>
<!-- C2 -->
<g transform="translate(835,255) scale(.16048)">
<path class="kw" d="M60 30L120 20Q150 50 140 90L70 120"/><circle class="hw" cx="60" cy="75" r="45"/><circle class="h" cx="60" cy="75" r="18"/>
<path class="kw" d="M60 445L130 420Q160 450 150 500L75 535"/><circle class="hw" cx="60" cy="490" r="45"/><circle class="h" cx="60" cy="490" r="18"/>
<path class="k" d="M62 120V445M90 110V430M130 100V420M150 90V420M65 535V623M95 540V623M110 545V623M135 520V623"/><path class="h" d="M105 110V420"/>
<path class="h" style="stroke-width:2.400" d="M85 200Q110 220 100 260Q60 300 70 340Q90 380 80 420M60 210Q40 260 50 320Q40 380 60 420"/>
<path class="k" d="M235 0V623M250 0V350M270 100V300M360 100V300M385 120V200M150 40Q200 60 235 30M150 100Q200 80 235 120M150 440Q200 400 235 340M155 500Q200 540 235 600M150 470Q190 470 235 420M160 520Q200 560 230 623M140 300Q190 330 235 330M150 320H235"/>
<path class="h" d="M300 130L470 50Q480 20 470 0M250 60L300 130"/><path class="k" d="M415 0Q430 30 465 20"/>
<path class="k" d="M560 20L690 55L790 35L740 25M550 60Q560 40 580 40L690 70L785 45"/><path class="k" d="M560 90L690 80M550 60V130Q560 100 600 95L680 90M525 0V200M570 0V190M690 100V150L660 170L650 200M680 150Q650 180 640 220"/>
<path class="h" d="M365 205Q360 200 380 198L540 200Q570 205 575 225L640 210M365 205V290Q380 300 400 290L560 275L600 240L640 225"/>
<path class="k" d="M380 230L540 225Q560 230 560 250M380 245L545 240M440 230V290M455 230V288M385 210Q420 240 400 290"/><path class="h" style="stroke-width:2.200" d="M610 250H670V270H615"/>
<path class="h" d="M400 300L580 290L640 275M385 300Q390 360 410 390L430 360L620 360Q640 355 640 330V285"/><ellipse class="h" cx="630" cy="322" rx="9" ry="38"/><path class="k" d="M440 300Q430 340 445 360M410 390V623M485 365V623M470 365V600"/>
<!-- clip 22 -->
<path class="h" style="stroke-width:2" d="M745 160Q770 120 820 125Q855 140 855 180Q850 210 830 215L825 225L850 222M765 165Q790 145 820 150Q840 160 835 185Q830 200 820 205M745 160Q760 230 770 290L768 350Q780 365 792 350L795 290Q780 220 765 165"/><path class="h" style="stroke-width:2.400" d="M779 300V355"/>
</g>
<!-- C3 -->
<g transform="translate(835,335) scale(.16048)">
<path class="h" d="M55 40V480M95 60V290"/><path class="k" d="M75 50V300M110 60V400M135 30V420M150 40V420"/>
<path class="h" style="stroke-width:2.400" d="M70 290Q100 280 105 320Q100 360 110 400Q120 440 100 470M55 320Q40 380 50 440Q50 480 70 495L115 490M70 300Q55 380 65 440Q75 470 95 465M86 320Q76 380 86 430Q92 455 86 470"/>
<path class="h" d="M115 490L240 440Q380 410 450 340Q485 300 488 200V0"/>
<path class="k" d="M120 470L235 425Q370 395 435 330Q470 290 472 200V0M150 420Q250 430 300 400M235 0V425M250 60V400M410 0V350M425 0V340M135 130L235 135M150 150H235M135 345L290 340M150 360L280 355M60 30Q100 20 135 30M150 0Q200 40 235 90M165 0Q210 30 240 60M100 0Q130 30 135 60"/>
</g>
<!-- pump mount flange (page coords) -->
<path class="hw" style="stroke-width:1.600" d="M886.600 300.500Q882.500 304 883 311.300Q884.800 320 884.200 328.100Q883 336 878.900 340.200Q876.800 346 878.200 352.200Q878.800 359 880.600 364.200Q884.600 370 884.200 376.200Q882.400 382 883 388.300Q883 394.500 885.400 397.900Q888 399.400 890.200 396.700Q893 392 892.600 385.900Q890.600 380 891.400 373.800Q892.800 367 896.200 361.800Q898 356 897.500 349.800Q897.600 343 895.800 337.700Q892 333 891.400 328.100Q891.400 319 892.600 311.300Q893 304.500 890.200 301.700Q888.400 299.600 886.600 300.500Z"/>
<path class="k" d="M886 303.500Q884.400 312 886 328Q884 338 881 342.500Q879.600 352 882.500 363Q886.600 371 886 377Q884.800 390 886.800 395.500"/>
<ellipse class="h" cx="889.500" cy="350.300" rx="5.400" ry="15"/><ellipse class="k" cx="889.800" cy="350.300" rx="3.700" ry="12.600"/>
<circle class="k" cx="889.500" cy="310.300" r="1.300"/><circle class="k" cx="888.600" cy="389.500" r="1.300"/>
</g>

<!-- p_right.svg -->
<g id="right">
<style>#right path,#right circle,#right ellipse,#right rect{vector-effect:non-scaling-stroke}</style>
<!-- pump 17 : region [975,295,1135,415] scale 5.194 -->
<g transform="translate(975,295) scale(.19254)">
<path class="kw" d="M60 290Q55 270 70 260L100 250V340L70 335Q55 320 60 290Z"/>
<path class="kw" d="M115 240L200 235V390L115 378Q100 370 105 340V260Q105 245 115 240Z"/><path class="k" d="M122 240Q110 300 122 378"/>
<path class="hw" d="M200 190L240 60L250 50L330 50L350 75Q372 100 360 135L325 170L440 190Q460 180 470 165L500 120Q530 120 540 140Q560 170 550 200Q565 230 555 270Q565 310 550 350Q555 380 540 400Q520 420 500 430Q480 450 460 480L440 470L320 465L350 555L330 585L245 580L235 570L200 445Z"/>
<path class="k" d="M210 190V445M300 170V480M315 185V470M200 190L300 175M200 215L300 200M200 445L300 460M205 425L300 440M250 50L300 170M330 50L305 140Q300 160 320 165M235 570L300 480M310 480L340 490L355 510L350 555"/>
<ellipse class="k" cx="333" cy="110" rx="8" ry="18"/><ellipse class="k" cx="333" cy="525" rx="8" ry="16"/>
<path class="k" d="M320 185L440 190M380 130L470 165M370 125L500 120M320 185Q330 150 370 125M440 190V470M455 185V480M470 165Q500 150 520 130M480 200Q520 190 540 150M440 470Q450 490 460 480L530 400M530 160Q545 200 538 240Q548 300 535 350Q530 385 500 415"/>
<ellipse class="h" cx="470" cy="215" rx="11" ry="21" style="stroke-width:2.200"/><ellipse class="h" cx="468" cy="455" rx="10" ry="18" style="stroke-width:2.200"/><ellipse class="f" cx="546" cy="180" rx="5" ry="13"/><ellipse class="f" cx="556" cy="265" rx="4" ry="10"/><ellipse class="f" cx="552" cy="350" rx="4" ry="10"/>
</g>
<!-- cap 21 : region [940,150,1060,250] scale 6.233 -->
<g transform="translate(940,150) scale(.16043)">
<path class="f" d="M285 190Q280 210 295 240L355 335Q375 355 395 345L440 320L360 160L340 150Z"/>
<path stroke="#fff" style="stroke-width:.6" fill="none" d="M300 180L380 345M318 168L400 340"/>
<path class="hw" style="stroke-width:2" d="M350 125Q352 110 370 105L475 85Q495 85 505 100L565 210Q572 228 560 245L505 315Q490 330 470 320L440 322Z"/>
<path class="k" d="M350 125L445 310Q460 330 485 320M365 115L460 300Q470 315 490 310M385 110L475 290Q482 305 500 300"/>
<path class="h" d="M400 108L480 95Q495 95 500 108L555 215Q560 230 550 242L505 295Q495 302 490 275Z"/>
</g>
</g>

<!-- p_bolts.svg -->
<g id="bolts">
<!-- dowel pins 2 -->
<rect class="kw" x="339.8" y="171.6" width="14.6" height="7" rx="1.4" style="stroke-width:1.6"/>
<ellipse class="t" cx="352.3" cy="175.2" rx="1.5" ry="3.6"/>
<rect class="kw" x="342.2" y="309.2" width="14.2" height="7.2" rx="1.4" style="stroke-width:1.6"/>
<ellipse class="t" cx="354.4" cy="312.8" rx="1.5" ry="3.8"/>
<!-- washer 4 -->
<ellipse class="kw" cx="550.6" cy="211.8" rx="3.4" ry="6.6" style="stroke-width:1.9"/>
<ellipse class="kw" cx="551" cy="211.8" rx="1.6" ry="3.8"/>
<!-- bolt 5 -->
<rect class="f" x="561.5" y="208.3" width="22" height="8" rx="1.5"/>
<path class="kw" d="M583 207.2l2.5-1.2h6.5l2.6 2v10.6l-2.6 1.8h-6.5l-2.5-1.4z"/>
<path class="t" d="M585.5 206v13M592 206.2v13M585.5 210.5h6.5M585.5 215.5h6.5"/>
<!-- long bolt 6 -->
<path class="kw" d="M543.5 267.8L640 271.4V282L543.5 278.6Q541.5 278.4 541.5 276.5V269.8Q541.5 267.8 543.5 267.8Z"/>
<path class="t" d="M574.5 269v10.5"/>
<path class="kw" d="M640 267.3l3.2.1v20.6l-3.2-.2z"/>
<path class="kw" d="M643.2 270.2l2.6-1.4 7 .3 2.2 2.2v11.2l-2.2 3.2-7-.2-2.6-1.8z"/>
<path class="t" d="M645.8 268.8v16.5M652.8 269.3v16.2M645.8 274.5h7M645.8 280.5h7"/>
<ellipse class="t" cx="641.6" cy="277.6" rx="1.3" ry="10"/>
<!-- screw 13 -->
<rect class="kw" x="729" y="286" width="10" height="5.6" rx="1"/>
<ellipse class="kw" cx="728.4" cy="288.8" rx="2.3" ry="4" style="stroke-width:1.8"/>
<ellipse class="f" cx="728.2" cy="288.8" rx=".9" ry="1.8"/>
<!-- washer 12 -->
<ellipse class="kw" cx="754" cy="289.7" rx="2.1" ry="4.8" style="stroke-width:1.9"/>
<ellipse class="f" cx="754" cy="289.7" rx=".5" ry="2.4"/>
<!-- nut 14 -->
<ellipse class="kw" cx="918.6" cy="408.8" rx="3" ry="6.3" style="stroke-width:1.9"/>
<ellipse class="kw" cx="918.9" cy="408.8" rx="1.5" ry="3.6"/>
<path class="t" d="M916 405.5l5 1M916 412l5 .8"/>
<!-- bolt 15 -->
<rect class="kw" x="929.5" y="406.4" width="19.8" height="7.2" rx="1"/>
<path class="kw" d="M949.2 405.4l2-1.2h4.6l1.9 1.8v9l-1.9 1.6h-4.6l-2-1.4z"/>
<path class="t" d="M951.2 404.2v11.8M955.8 404.4v11.8M951.2 408h4.6M951.2 412.5h4.6"/>
<!-- washer 23 -->
<ellipse class="kw" cx="978.5" cy="307.2" rx="2.8" ry="6.6" style="stroke-width:1.9"/>
<ellipse class="kw" cx="978.8" cy="307.2" rx="1.3" ry="3.8"/>
<path class="t" d="M976 304l5 1M976 310.5l5 .8"/>
<!-- bolt 24 -->
<rect class="f" x="986" y="304.2" width="10.5" height="8" rx="1.4"/>
<rect class="kw" x="996" y="304.6" width="6.2" height="7.4"/>
<path class="kw" d="M1002 303.4l2-1.3h4l2 2v9.4l-2 1.8h-4l-2-1.4z"/>
<path class="t" d="M1004 302.1v13.2M1008 302.3v13.2M1004 306.5h4M1004 311h4"/>
<!-- washer 18 -->
<ellipse class="kw" cx="1082.8" cy="397.4" rx="3" ry="6.8" style="stroke-width:1.9"/>
<ellipse class="kw" cx="1083.1" cy="397.4" rx="1.4" ry="3.9"/>
<path class="t" d="M1080.2 394l5.2 1M1080.2 401l5.2.8"/>
<!-- bolt 19 -->
<path class="kw" d="M1102 395.2l29 1.2v7l-29-1.4z"/>
<path class="kw" d="M1131 394.3l35 1.6v10l-35-1.6z"/>
<path class="kw" d="M1166 396.4l4.2.2 1.7 1.6v6l-1.7 1.8-4.2-.2z"/>
<path class="t" d="M1166 399.5l5.9.3M1166 403l5.9.2"/>
<!-- O-ring 16 -->
<ellipse class="k" cx="964.6" cy="353" rx="6.6" ry="17" style="stroke-width:1.1"/>
<ellipse class="k" cx="964.6" cy="353" rx="4.6" ry="14.6" style="stroke-width:1"/>
<!-- O-ring 20 -->
<g transform="rotate(-26 976.9 202.9)">
<ellipse class="k" cx="976.9" cy="202.9" rx="7.6" ry="17" style="stroke-width:1.2"/>
<ellipse class="k" cx="976.9" cy="202.9" rx="5.2" ry="14.6" style="stroke-width:1.1"/>
</g>
<!-- pin 25 -->
<path class="hw" style="stroke-width:1.9" d="M953.6 221.400L964 218.200Q968.500 222 966.500 229.400L955.200 235.500Z"/>
<ellipse class="hw" cx="953.600" cy="228.600" rx="6" ry="7.200" style="stroke-width:1.900"/>
<!-- grommets 10 -->
<circle class="kw" cx="824.8" cy="213.6" r="10.4" style="stroke-width:1.4"/>
<ellipse class="kw" cx="825.6" cy="213.2" rx="7.2" ry="7.6"/>
<ellipse class="kw" cx="823.3" cy="214" rx="5.2" ry="5.4" style="stroke-width:1.2"/>
<ellipse class="kw" cx="824" cy="214" rx="3" ry="3.2"/>
<circle class="kw" cx="919.6" cy="168.6" r="10.4" style="stroke-width:1.4"/>
<ellipse class="kw" cx="918.4" cy="168.8" rx="7.6" ry="8"/>
<ellipse class="kw" cx="917.4" cy="169.4" rx="5.2" ry="5.4" style="stroke-width:1.2"/>
<ellipse class="kw" cx="917.8" cy="169.4" rx="3" ry="3.2"/>
</g>

<!-- p_lines.svg -->
<g id="center" class="r">
<path d="M781.7 252.5L800.4 253.3"/>
<path d="M394.0 204.5L440.0 206.5M446.0 206.8L453.0 207.1M460.0 207.4L547.5 211.2M554.0 211.5L561.5 211.8"/>
<path d="M492.7 271.1L541.5 273.1"/>
<path d="M415.7 253.1L440.8 283.2M444.0 287.1L448.8 292.8M453.6 298.6L512.2 368.9M517.0 374.6L521.0 379.4M525.0 384.2L549.8 414.0"/>
<path d="M415.7 335.7L434.4 357.6M438.4 362.3L444.0 368.9M448.0 373.6L470.5 400.0M474.5 404.7L479.3 410.3M484.1 416.0L504.0 439.3"/>
<path d="M739.0 289.2L752.0 289.8M756.0 290.0L794.0 291.7M801.6 292.0L844.5 294.0"/>
<path d="M934.7 306.0L975.5 308.3M981.5 308.6L986.0 308.9"/>
<path d="M884.2 349.8L924.0 351.7M931.2 352.0L938.4 352.4M945.6 352.7L958.0 353.3M971.2 353.9L986.0 354.6"/>
<path d="M889.0 389.5L913.1 390.6M921.5 391.0L928.7 391.3M937.2 391.7L972.0 393.3M976.8 393.5L984.0 393.8M992.5 394.2L1017.8 395.4M1039.4 396.4L1058.7 397.2M1065.9 397.6L1073.0 397.9M1086.0 398.5L1101.5 399.2"/>
<path d="M853.0 406.3L881.8 407.6M887.8 407.9L895.0 408.2M899.9 408.4L915.5 409.2M921.6 409.4L929.5 409.8"/>
<path d="M831.9 209.5L845.6 202.7M916.1 170L897.2 181M948 231.5L957 227"/>
<path d="M899.9 243.9L933.5 225.8M937.0 223.9L942.0 221.2M946.0 219.0L989.0 195.8"/>
</g>

<!-- p_blue.svg -->
<g id="leaders" class="b">
<path d="M357.7 98.0L308.4 162.6"/>
<path d="M386.6 109.2L347.8 173.9"/>
<path d="M589.7 98.0L548.9 206.2"/>
<path d="M619.2 103.6L584.0 207.6"/>
<path d="M710.9 90.9L690.9 171.7"/>
<path d="M788.9 114.3L825.0 205.0"/>
<path d="M837.0 114.3L862.8 178.6"/>
<path d="M888.6 96.1L917.8 159.7"/>
<path d="M946.0 121.2L971.1 187.9"/>
<path d="M1044.3 128.7L1024.4 171.7"/>
<path d="M967.3 225.9L1009.4 226.6"/>
<path d="M972.0 279.0L1064.7 221.3"/>
<path d="M980.5 302.0L1049.0 263.4"/>
<path d="M1009.4 304.0L1070.3 282.4"/>
<path d="M1061.0 323.3L1108.0 279.0"/>
<path d="M321.1 433.0L349.0 317.0"/>
<path d="M358.1 456.1L426.5 375.4"/>
<path d="M462.5 508.1L514.1 462.6"/>
<path d="M560.0 522.3L576.3 453.3"/>
<path d="M650.2 487.8L597.0 277.0"/>
<path d="M729.3 357.6L731.0 293.0"/>
<path d="M756.9 379.6L754.0 295.0"/>
<path d="M794.3 382.0L776.0 292.0"/>
<path d="M896.2 453.9L918.6 415.3"/>
<path d="M945.0 482.3L947.8 413.3"/>
<path d="M990.5 486.4L964.9 371.8"/>
<path d="M1096.1 458.0L1083.9 405.2"/>
<path d="M1159.1 468.1L1140.0 405.2"/>
</g>

<!-- p_labels.svg -->
<g id="labels" style="opacity:.999">
<text transform="translate(358.6,96.6) scale(.76,1)" text-anchor="middle">1</text>
<text transform="translate(389.3,108.4) scale(.76,1)" text-anchor="middle">2</text>
<text transform="translate(592.9,97.1) scale(.76,1)" text-anchor="middle">4</text>
<text transform="translate(622.0,102.7) scale(.76,1)" text-anchor="middle">5</text>
<text transform="translate(711.9,90.3) scale(.76,1)" text-anchor="middle">8</text>
<text transform="translate(788.7,114.0) scale(.76,1)" text-anchor="middle">10</text>
<text transform="translate(837.4,114.0) scale(.76,1)" text-anchor="middle">9</text>
<text transform="translate(888.4,96.1) scale(.76,1)" text-anchor="middle">10</text>
<text transform="translate(946.1,120.8) scale(.76,1)" text-anchor="middle">20</text>
<text transform="translate(1051.4,130.5) scale(.76,1)" text-anchor="middle">21</text>
<text transform="translate(1075.0,221.6) scale(.76,1)" text-anchor="middle">22</text>
<text transform="translate(1019.0,234.6) scale(.76,1)" text-anchor="middle">25</text>
<text transform="translate(1058.3,262.7) scale(.76,1)" text-anchor="middle">23</text>
<text transform="translate(1079.5,284.4) scale(.76,1)" text-anchor="middle">24</text>
<text transform="translate(1116.5,278.0) scale(.76,1)" text-anchor="middle">17</text>
<text transform="translate(320.3,451.3) scale(.76,1)" text-anchor="middle">2</text>
<text transform="translate(355.0,474.8) scale(.76,1)" text-anchor="middle">3</text>
<text transform="translate(458.8,521.1) scale(.76,1)" text-anchor="middle">7</text>
<text transform="translate(559.5,540.6) scale(.76,1)" text-anchor="middle">7</text>
<text transform="translate(653.2,506.9) scale(.76,1)" text-anchor="middle">6</text>
<text transform="translate(730.8,376.7) scale(.76,1)" text-anchor="middle">13</text>
<text transform="translate(758.7,397.8) scale(.76,1)" text-anchor="middle">12</text>
<text transform="translate(796.9,401.9) scale(.76,1)" text-anchor="middle">11</text>
<text transform="translate(895.0,474.2) scale(.76,1)" text-anchor="middle">14</text>
<text transform="translate(944.3,500.6) scale(.76,1)" text-anchor="middle">15</text>
<text transform="translate(993.0,505.9) scale(.76,1)" text-anchor="middle">16</text>
<text transform="translate(1098.1,477.1) scale(.76,1)" text-anchor="middle">18</text>
<text transform="translate(1161.5,486.8) scale(.76,1)" text-anchor="middle">19</text>
</g>

</svg>
</body></html>
